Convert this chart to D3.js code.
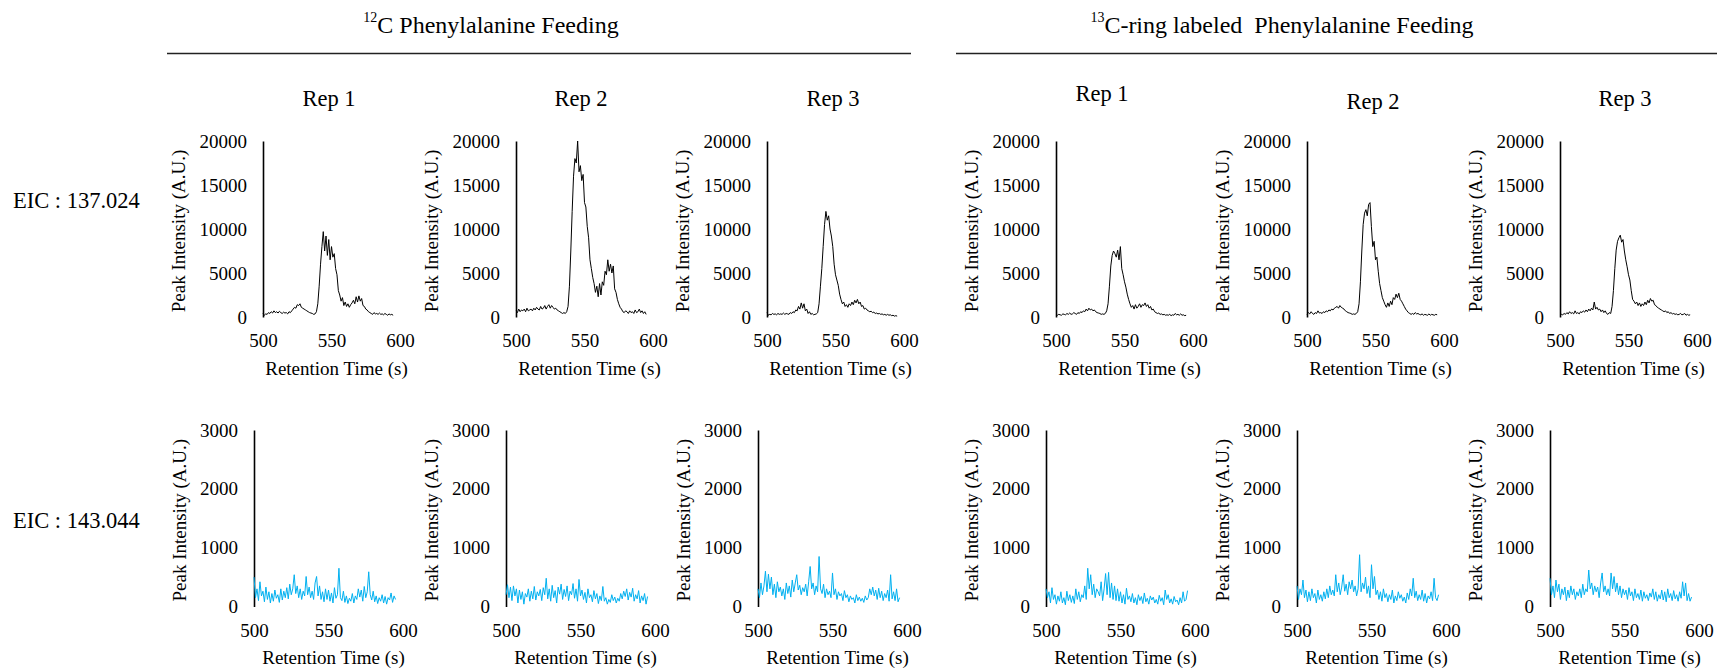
<!DOCTYPE html>
<html lang="en">
<head>
<meta charset="UTF-8">
<title>EIC Phenylalanine Feeding</title>
<script src="https://d3js.org/d3.v7.min.js"></script>
<style>
  body { margin: 0; background: #fff; }
  svg, svg text { font-family: "Liberation Serif", "Times New Roman", serif; fill: #000; }
</style>
</head>
<body>
<div id="chart"></div>
<script>
// retention time grid (s)
const retentionTimes = [
  500, 501, 502, 503, 504, 505, 506, 507, 508, 509, 510, 511,
  512, 513, 514, 515, 516, 517, 518, 519, 520, 521, 522, 523,
  524, 525, 526, 527, 528, 529, 530, 531, 532, 533, 534, 535,
  536, 537, 538, 539, 540, 541, 542, 543, 544, 545, 546, 547,
  548, 549, 550, 551, 552, 553, 554, 555, 556, 557, 558, 559,
  560, 561, 562, 563, 564, 565, 566, 567, 568, 569, 570, 571,
  572, 573, 574, 575, 576, 577, 578, 579, 580, 581, 582, 583,
  584, 585, 586, 587, 588, 589, 590, 591, 592, 593, 594, 595
];

const feedingGroups = [
  { sup: "12", rest: "C Phenylalanine Feeding" },
  { sup: "13", rest: "C-ring labeled  Phenylalanine Feeding" }
];
const repNames = ["Rep 1", "Rep 2", "Rep 3"];
const ionLabels = ["EIC : 137.024", "EIC : 143.044"];
const xTicks = [500, 550, 600];
const yTicks137 = [0, 5000, 10000, 15000, 20000];
const yTicks143 = [0, 1000, 2000, 3000];
const xTitle = "Retention Time (s)";
const yTitle = "Peak Intensity (A.U.)";

// EIC 137.024
const c12Rep1_137 = [
  400, 200, 350, 300, 500, 400, 600, 450, 700, 500, 600, 450,
  650, 500, 400, 550, 450, 500, 350, 600, 500, 700, 900, 1100,
  1000, 1400, 1300, 1500, 1100, 1000, 900, 800, 700, 600, 500, 450,
  400, 300, 350, 600, 1500, 3500, 6000, 8000, 9700, 7500, 9200, 7000,
  8800, 6500, 8000, 6800, 7200, 5500, 4800, 3000, 2500, 1800, 2200, 1300,
  1700, 1200, 1500, 1100, 1400, 1600, 1900, 1500, 2300, 1700, 2400, 1800,
  2100, 1300, 1200, 900, 800, 600, 500, 400, 300, 500, 350, 400,
  300, 450, 300, 350, 250, 400, 300, 200, 350, 250, 300, 200
];
const c12Rep2_137 = [
  700, 500, 900, 600, 800, 700, 900, 600, 1000, 700, 800, 900,
  700, 1000, 800, 1100, 900, 800, 1200, 900, 1000, 1300, 900, 1200,
  1400, 1000, 1300, 1100, 900, 1000, 800, 700, 600, 500, 400, 500,
  400, 600, 1200, 3500, 7500, 12000, 16000, 18000, 17500, 20000, 16500, 17200,
  15500, 16200, 13000, 12500, 10300, 9000, 6500, 5500, 4500, 3800, 2800, 3500,
  2300, 3800, 2500, 4000, 3600, 5200, 4800, 6500, 5200, 6000, 5000, 5800,
  3200, 2800, 2000, 1500, 1100, 900, 600, 500, 700, 600, 400, 700,
  500, 600, 400, 800, 500, 600, 900, 500, 700, 400, 600, 300
];
const c12Rep3_137 = [
  500, 200, 300, 250, 400, 300, 350, 250, 400, 300, 350, 300,
  450, 300, 400, 350, 300, 500, 400, 600, 500, 800, 700, 1200,
  900, 1600, 1000, 1500, 700, 900, 400, 600, 300, 400, 250, 300,
  350, 500, 1500, 3500, 5500, 8000, 10500, 12000, 11000, 11500, 10000, 9200,
  8000, 6000, 4800, 4200, 3600, 2600, 2000, 1500, 1700, 1200, 1400, 1100,
  1500, 1300, 1700, 1400, 1900, 1600, 2000, 1500, 1700, 1200, 1300, 900,
  1000, 800, 700, 600, 650, 500, 550, 400, 450, 350, 400, 300,
  350, 250, 300, 200, 300, 200, 250, 150, 200, 100, 150, 100
];
const c13Rep1_137 = [
  300, 200, 300, 250, 200, 350, 300, 250, 400, 300, 450, 300,
  350, 500, 400, 300, 500, 400, 600, 500, 700, 600, 900, 700,
  1000, 800, 900, 700, 800, 600, 500, 450, 400, 300, 350, 300,
  400, 700, 1500, 3500, 5800, 7000, 7500, 7200, 6800, 7600, 6500, 8000,
  5500, 4800, 4000, 3400, 2600, 2000, 1500, 1100, 1300, 900, 1400, 1000,
  1200, 1500, 1100, 1400, 1300, 1600, 1200, 1400, 1000, 1200, 800, 900,
  600, 500, 400, 450, 300, 350, 250, 300, 200, 250, 200, 300,
  150, 250, 200, 400, 250, 300, 200, 350, 200, 250, 150, 200
];
const c13Rep2_137 = [
  300, 500, 350, 600, 400, 300, 500, 400, 700, 450, 500, 400,
  600, 500, 700, 600, 800, 700, 900, 800, 1000, 1100, 1200, 1000,
  1300, 1100, 1000, 900, 700, 600, 500, 450, 400, 300, 350, 300,
  400, 600, 1500, 4000, 7500, 10500, 11800, 12200, 11500, 12800, 13000, 10300,
  8000, 8600, 6500, 6800, 5200, 3800, 3000, 2200, 1800, 1400, 1100, 1600,
  1200, 1800, 1400, 2200, 2000, 2600, 2200, 2700, 2000, 1800, 1500, 1200,
  900, 700, 500, 400, 300, 400, 300, 500, 350, 400, 300, 250,
  350, 200, 300, 250, 200, 350, 200, 300, 250, 200, 300, 250
];
const c13Rep3_137 = [
  200, 300, 250, 400, 300, 500, 350, 600, 400, 500, 350, 700,
  400, 500, 350, 600, 500, 700, 550, 800, 600, 900, 700, 1000,
  800, 1700, 900, 1100, 800, 900, 600, 800, 500, 700, 400, 300,
  500, 400, 1200, 3000, 5500, 7600, 8600, 9000, 9300, 8500, 8800, 7500,
  6500, 5700, 4800, 4200, 3000, 2000, 1800, 1500, 1700, 1300, 1600, 1200,
  1500, 1300, 1700, 1400, 1900, 1600, 2100, 1800, 1900, 1400, 1300, 1100,
  1000, 900, 800, 700, 600, 700, 500, 600, 400, 500, 350, 400,
  300, 350, 250, 300, 400, 250, 300, 400, 200, 300, 200, 250
];

// EIC 143.044
const c12Rep1_143 = [
  500, 150, 300, 100, 420, 180, 260, 80, 330, 120, 250, 60,
  220, 90, 280, 140, 200, 70, 300, 110, 260, 150, 320, 130,
  380, 200, 300, 540, 220, 350, 150, 300, 120, 260, 180, 510,
  200, 330, 150, 260, 120, 400, 510, 180, 350, 120, 250, 80,
  300, 120, 280, 90, 230, 60, 320, 140, 200, 650, 150, 100,
  260, 70, 180, 50, 140, 90, 220, 60, 180, 120, 300, 160,
  280, 90, 340, 150, 250, 590, 200, 110, 260, 80, 180, 50,
  150, 90, 200, 60, 170, 40, 150, 110, 230, 70, 180, 120
];
const c12Rep2_143 = [
  200, 370, 150, 330, 100, 350, 180, 300, 60, 280, 120, 250,
  40, 220, 160, 300, 90, 260, 130, 340, 110, 250, 180, 290,
  100, 320, 200, 480, 130, 300, 90, 360, 150, 270, 60, 330,
  210, 380, 120, 290, 170, 350, 100, 260, 200, 390, 140, 300,
  90, 460, 180, 280, 120, 240, 60, 300, 150, 200, 80, 270,
  130, 220, 50, 180, 100, 340, 90, 150, 40, 120, 70, 200,
  100, 160, 60, 140, 90, 220, 130, 260, 170, 300, 110, 240,
  160, 310, 90, 200, 130, 270, 60, 180, 100, 220, 40, 170
];
const c12Rep3_143 = [
  300, 150, 400, 200, 350, 600, 250, 550, 300, 500, 200, 380,
  150, 420, 250, 330, 180, 300, 120, 400, 220, 350, 160, 450,
  250, 400, 540, 280, 360, 200, 320, 250, 380, 180, 420, 680,
  300, 400, 200, 350, 250, 850, 300, 220, 380, 150, 300, 200,
  260, 150, 570, 200, 300, 120, 250, 180, 220, 100, 270, 150,
  200, 80, 180, 120, 150, 60, 200, 100, 160, 90, 140, 70,
  180, 110, 150, 300, 200, 330, 180, 280, 120, 310, 150, 260,
  100, 220, 150, 280, 90, 540, 130, 250, 100, 300, 80, 150
];
const c13Rep1_143 = [
  300, 150, 250, 60, 320, 120, 200, 40, 180, 90, 250, 60,
  150, 30, 260, 100, 200, 70, 180, 50, 300, 120, 250, 80,
  200, 150, 350, 120, 650, 300, 540, 200, 380, 150, 300, 250,
  180, 420, 100, 300, 560, 200, 580, 150, 400, 120, 350, 100,
  300, 90, 250, 60, 200, 40, 310, 120, 180, 80, 220, 60,
  150, 30, 200, 100, 170, 50, 230, 80, 140, 40, 180, 110,
  160, 60, 120, 40, 190, 90, 150, 30, 280, 120, 200, 60,
  130, 40, 170, 80, 110, 30, 150, 60, 250, 90, 120, 270
];
const c13Rep2_143 = [
  350, 120, 300, 200, 450, 150, 280, 80, 250, 100, 300, 150,
  220, 60, 280, 120, 200, 90, 250, 130, 300, 150, 350, 200,
  280, 180, 540, 250, 400, 200, 330, 540, 260, 380, 200, 420,
  300, 450, 250, 350, 180, 300, 880, 250, 400, 300, 500, 220,
  350, 150, 710, 300, 510, 200, 280, 120, 250, 90, 300, 150,
  220, 80, 200, 120, 280, 60, 180, 100, 250, 140, 200, 90,
  160, 60, 230, 120, 300, 180, 480, 150, 260, 100, 200, 120,
  280, 90, 220, 60, 180, 130, 250, 100, 480, 150, 100, 200
];
const c13Rep3_143 = [
  480, 200, 350, 150, 450, 250, 380, 120, 300, 200, 330, 100,
  280, 150, 350, 200, 300, 120, 250, 180, 300, 150, 380, 200,
  300, 250, 620, 300, 400, 200, 350, 250, 330, 150, 400, 570,
  250, 350, 200, 300, 180, 570, 300, 510, 250, 400, 200, 350,
  150, 300, 200, 280, 120, 320, 180, 250, 100, 300, 150, 220,
  120, 280, 90, 250, 140, 200, 100, 230, 160, 300, 120, 250,
  90, 200, 130, 280, 110, 250, 80, 300, 150, 220, 100, 270,
  130, 200, 90, 250, 140, 420, 180, 400, 100, 220, 90, 160
];

const rows = [
  {
    label: ionLabels[0], labelY: 200, color: "#000000",
    domain: [0, 20000], ticks: yTicks137,
    top: 141, bottom: 317, width: 137, yTitleOffset: 85,
    axisXs: [263, 516, 767, 1056, 1307, 1560],
    series: [c12Rep1_137, c12Rep2_137, c12Rep3_137, c13Rep1_137, c13Rep2_137, c13Rep3_137]
  },
  {
    label: ionLabels[1], labelY: 520, color: "#00B0F0",
    domain: [0, 3000], ticks: yTicks143,
    top: 430, bottom: 606.5, width: 149, yTitleOffset: 75,
    axisXs: [254, 506, 758, 1046, 1297, 1550],
    series: [c12Rep1_143, c12Rep2_143, c12Rep3_143, c13Rep1_143, c13Rep2_143, c13Rep3_143]
  }
];

const serif = '"Liberation Serif", "Times New Roman", serif';

const svg = d3.select("#chart")
  .append("svg")
  .attr("width", 1717)
  .attr("height", 670)
  .attr("font-family", serif);

// group headers with rules underneath
const headers = [
  { cx: 491, x1: 167, x2: 911 },
  { cx: 1282, x1: 956, x2: 1717 }
];
headers.forEach((h, i) => {
  const t = svg.append("text")
    .attr("x", h.cx)
    .attr("y", 25)
    .attr("text-anchor", "middle")
    .attr("dominant-baseline", "central")
    .attr("font-size", 24)
    .style("white-space", "pre");
  t.append("tspan")
    .attr("font-size", 14)
    .attr("dy", -8)
    .text(feedingGroups[i].sup);
  t.append("tspan")
    .attr("dy", 8)
    .text(feedingGroups[i].rest);
  svg.append("line")
    .attr("x1", h.x1).attr("x2", h.x2)
    .attr("y1", 53.5).attr("y2", 53.5)
    .attr("stroke", "#222")
    .attr("stroke-width", 1.5);
});

// rep titles (top row only)
const repTitleX = [66, 65, 66, 46, 66, 65];
const repTitleY = [98, 98, 98, 93, 101, 98];
rows[0].axisXs.forEach((ax, i) => {
  svg.append("text")
    .attr("x", ax + repTitleX[i])
    .attr("y", repTitleY[i])
    .attr("text-anchor", "middle")
    .attr("dominant-baseline", "central")
    .attr("font-size", 22.5)
    .text(repNames[i % 3]);
});

rows.forEach(row => {
  svg.append("text")
    .attr("x", 13)
    .attr("y", row.labelY)
    .attr("dominant-baseline", "central")
    .attr("font-size", 22.5)
    .text(row.label);

  row.axisXs.forEach((ax, i) => {
    const x = d3.scaleLinear().domain([500, 600]).range([ax, ax + row.width]);
    const y = d3.scaleLinear().domain(row.domain).range([row.bottom, row.top]);
    const g = svg.append("g");

    const yAxis = g.append("g")
      .attr("transform", `translate(${ax},0)`)
      .call(d3.axisLeft(y).tickValues(row.ticks).tickFormat(d3.format("d"))
        .tickSize(0).tickSizeOuter(0).tickPadding(16));
    yAxis.attr("font-family", serif).attr("font-size", 19);
    yAxis.select(".domain").attr("stroke", "#000").attr("stroke-width", 1.6);

    const xAxis = g.append("g")
      .attr("transform", `translate(0,${row.bottom})`)
      .call(d3.axisBottom(x).tickValues(xTicks).tickFormat(d3.format("d"))
        .tickSize(0).tickPadding(17));
    xAxis.attr("font-family", serif).attr("font-size", 19);
    xAxis.select(".domain").remove();

    g.append("path")
      .datum(row.series[i])
      .attr("fill", "none")
      .attr("stroke", row.color)
      .attr("stroke-width", 1)
      .attr("stroke-linejoin", "round")
      .attr("d", d3.line()
        .x((d, j) => x(retentionTimes[j]))
        .y(d => y(d)));

    g.append("text")
      .attr("x", ax + row.width / 2 + 5)
      .attr("y", row.bottom + 51)
      .attr("text-anchor", "middle")
      .attr("dominant-baseline", "central")
      .attr("font-size", 19)
      .text(xTitle);

    g.append("text")
      .attr("transform", `translate(${ax - row.yTitleOffset},${(row.top + row.bottom) / 2 + 2}) rotate(-90)`)
      .attr("text-anchor", "middle")
      .attr("dominant-baseline", "central")
      .attr("font-size", 19)
      .text(yTitle);
  });
});
</script>
</body>
</html>
